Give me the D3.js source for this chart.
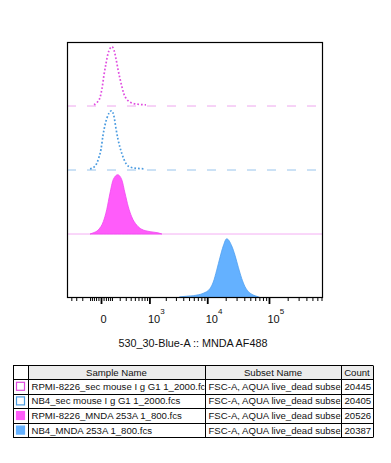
<!DOCTYPE html>
<html><head><meta charset="utf-8">
<script src="https://cdn.jsdelivr.net/npm/d3@7"></script>
<style>
body{margin:0;background:#fff;}
text{font-family:"Liberation Sans",Arial,sans-serif;fill:#111;}
</style>
</head><body>
<svg id="c" width="391" height="463"></svg>
<script>
// ---------- data ----------
const sampleNames = [
  "RPMI-8226_sec mouse I g G1 1_2000.fcs",
  "NB4_sec mouse I g G1 1_2000.fcs",
  "RPMI-8226_MNDA 253A 1_800.fcs",
  "NB4_MNDA 253A 1_800.fcs"
];
const subsetNames = [
  "FSC-A, AQUA live_dead subset",
  "FSC-A, AQUA live_dead subset",
  "FSC-A, AQUA live_dead subset",
  "FSC-A, AQUA live_dead subset"
];
const counts = [20445, 20405, 20526, 20387];
const tableHeaders = ["", "Sample Name", "Subset Name", "Count"];
const axisTitle = "530_30-Blue-A :: MNDA AF488";

// histogram points: [fluorescence value, % of mode]
const rpmiSec = [[-100,0],[-59,2],[-32,6],[-8,14],[8,30],[23,52],[41,72],[59,88],[79,97],[100,100],[124,94],[148,80],[175,62],[204,46],[235,32],[268,20],[304,13],[343,9],[430,5],[587,3],[858,2],[1120,0]];
const nb4Sec = [[-148,0],[-100,2],[-59,5],[-32,12],[-15,22],[0,35],[15,58],[32,76],[50,88],[69,96],[95,100],[124,90],[148,70],[175,52],[204,38],[235,27],[268,18],[304,11],[385,5],[531,3],[782,2],[1026,0]];
const rpmiMnda = [[-100,0],[-66,2],[-21,7],[18,21],[47,41],[79,69],[115,92],[171,100],[230,92],[286,69],[349,46],[423,29],[550,15],[702,8],[1026,4],[1449,2],[1700,0]];
const nb4Mnda = [[3258,0],[3520,2],[5890,4],[8620,8],[11100,16],[12560,27],[14280,47],[16200,69],[18280,88],[20760,100],[25020,88],[28300,72],[32000,52],[36320,33],[41100,19],[46420,11],[55920,5],[67320,2],[74420,0]];

const majorTicks = [0, 1e3, 1e4, 1e5];
const majorExponents = [null, 3, 4, 5];
const minorTicks = [-400,-300,-200,-100,-80,-60,-40,-20,20,40,60,80,100,200,300,400,500,600,700,800,900,
  2000,3000,4000,5000,6000,7000,8000,9000,20000,30000,40000,50000,60000,70000,80000,90000,
  200000,300000,400000,500000,600000,700000];

// ---------- layout ----------
const svg = d3.select("#c");
const P = {left:67, top:42, right:323, bottom:298};

const x = d3.scaleSymlog().constant(200).domain([-504, 739800]).range([P.left, P.right]);
const track = d3.scaleBand().domain(d3.range(4)).range([P.top, P.bottom]).padding(0);
const h = d3.scaleLinear().domain([0,108]).range([0, track.bandwidth()]);

const series = [
  {data: rpmiSec, filled:false, stroke:"#e04ce0", base:"#eea6ee", dash:"9,11"},
  {data: nb4Sec, filled:false, stroke:"#4a9be0", base:"#98c4ec", dash:"9,11"},
  {data: rpmiMnda, filled:true, fill:"#ff5cfa", stroke:"#f048f0", base:"#f4aef4"},
  {data: nb4Mnda, filled:true, fill:"#64b1ff", stroke:"#4f9ff0", base:null}
];

svg.append("clipPath").attr("id","plotclip").append("rect")
  .attr("x",P.left).attr("y",P.top).attr("width",P.right-P.left).attr("height",P.bottom-P.top);
const g = svg.append("g").attr("clip-path","url(#plotclip)");

series.forEach((s,i)=>{
  const base = track(i) + track.bandwidth();
  if (s.base) {
    g.append("line").attr("x1",P.left).attr("x2",P.right).attr("y1",base).attr("y2",base)
      .attr("stroke",s.base).attr("stroke-width",1)
      .attr("stroke-dasharray", s.dash || null);
  }
  const area = d3.area().x(d=>x(d[0])).y0(base).y1(d=>base-h(d[1])).curve(d3.curveMonotoneX);
  const line = d3.line().x(d=>x(d[0])).y(d=>base-h(d[1])).curve(d3.curveMonotoneX);
  if (s.filled) {
    g.append("path").attr("d",area(s.data)).attr("fill",s.fill).attr("stroke",s.stroke).attr("stroke-width",0.8);
  } else {
    g.append("path").attr("d",line(s.data.filter(d=>d[1]>=2))).attr("fill","none")
      .attr("stroke",s.stroke).attr("stroke-width",1.7).attr("stroke-dasharray","1.7,2");
  }
});

// frame
svg.append("rect").attr("x",P.left+0.5).attr("y",P.top+0.5)
  .attr("width",P.right-P.left-1).attr("height",P.bottom-P.top-1)
  .attr("fill","none").attr("stroke","#000").attr("stroke-width",1.2);

// axis ticks
const axMinor = d3.axisBottom(x).tickValues(minorTicks).tickSize(3.5).tickFormat("");
const axMajor = d3.axisBottom(x).tickValues(majorTicks).tickSize(6.5).tickFormat("");
const gm = svg.append("g").attr("transform",`translate(0,${P.bottom-0.5})`).call(axMinor);
gm.select(".domain").remove();
gm.selectAll("line").attr("stroke","#000");
const gM = svg.append("g").attr("transform",`translate(0,${P.bottom-0.5})`).call(axMajor);
gM.select(".domain").remove();
gM.selectAll("line").attr("stroke","#000").attr("stroke-width",1.8);

// tick labels
majorTicks.forEach((v,i)=>{
  const e = majorExponents[i];
  if (e === null) {
    svg.append("text").attr("x",x(v)+2.5).attr("y",323).attr("text-anchor","middle")
      .attr("font-size",11).text("0");
  } else {
    const t = svg.append("text").attr("x",x(v)-1.5).attr("y",323).attr("font-size",11);
    t.append("tspan").text("10");
    t.append("tspan").attr("dy",-9).attr("font-size",8).text(e);
  }
});

svg.append("text").attr("x",(P.left+P.right)/2-2).attr("y",347).attr("text-anchor","middle")
  .attr("font-size",10.8).text(axisTitle);

// ---------- table ----------
const colX = [13, 28, 205, 341, 373];
const headTop = 365, headH = 14, rowH = 14.6;
const fs = 9.6;
const tbl = svg.append("g");
for (let c=1;c<4;c++){
  tbl.append("rect").attr("x",colX[c]).attr("y",headTop).attr("width",colX[c+1]-colX[c]).attr("height",headH)
    .attr("fill","#ececec");
}
tableHeaders.forEach((t,c)=>{
  if(!t) return;
  tbl.append("text").attr("x",(colX[c]+colX[c+1])/2).attr("y",headTop+headH/2+3.5)
    .attr("text-anchor","middle").attr("font-size",fs).text(t);
});
for (let c=1;c<4;c++){
  svg.append("clipPath").attr("id","col"+c).append("rect")
    .attr("x",colX[c]+1).attr("y",headTop).attr("width",colX[c+1]-colX[c]-1.5).attr("height",100);
}
const boxStyles = [
  {fill:"#fff", stroke:"#e04ce0"},
  {fill:"#fff", stroke:"#4a9be0"},
  {fill:"#ff5cfa", stroke:"#ff5cfa"},
  {fill:"#64b1ff", stroke:"#64b1ff"}
];
sampleNames.forEach((name,r)=>{
  const y0 = headTop + headH + r*rowH;
  const cy = y0 + rowH/2;
  tbl.append("rect").attr("x",(colX[0]+colX[1])/2-4).attr("y",cy-4).attr("width",8).attr("height",8)
    .attr("fill",boxStyles[r].fill).attr("stroke",boxStyles[r].stroke).attr("stroke-width",1.2);
  tbl.append("text").attr("clip-path","url(#col1)").attr("x",colX[1]+3.5).attr("y",cy+3.5)
    .attr("font-size",fs).text(name);
  tbl.append("text").attr("clip-path","url(#col2)").attr("x",colX[2]+3.5).attr("y",cy+3.5)
    .attr("font-size",fs).text(subsetNames[r]);
  tbl.append("text").attr("clip-path","url(#col3)").attr("x",colX[3]+3.5).attr("y",cy+3.5)
    .attr("font-size",fs).text(counts[r]);
});
const tableBottom = headTop + headH + sampleNames.length*rowH;
const hl = [headTop, headTop+headH].concat(sampleNames.map((_,r)=>headTop+headH+(r+1)*rowH));
hl.forEach(y=>tbl.append("line").attr("x1",colX[0]).attr("x2",colX[4]).attr("y1",Math.round(y)+0.5).attr("y2",Math.round(y)+0.5).attr("stroke","#000"));
colX.forEach(xx=>tbl.append("line").attr("x1",xx+0.5).attr("x2",xx+0.5).attr("y1",headTop+0.5).attr("y2",Math.round(tableBottom)+0.5).attr("stroke","#000"));
</script>
</body></html>
